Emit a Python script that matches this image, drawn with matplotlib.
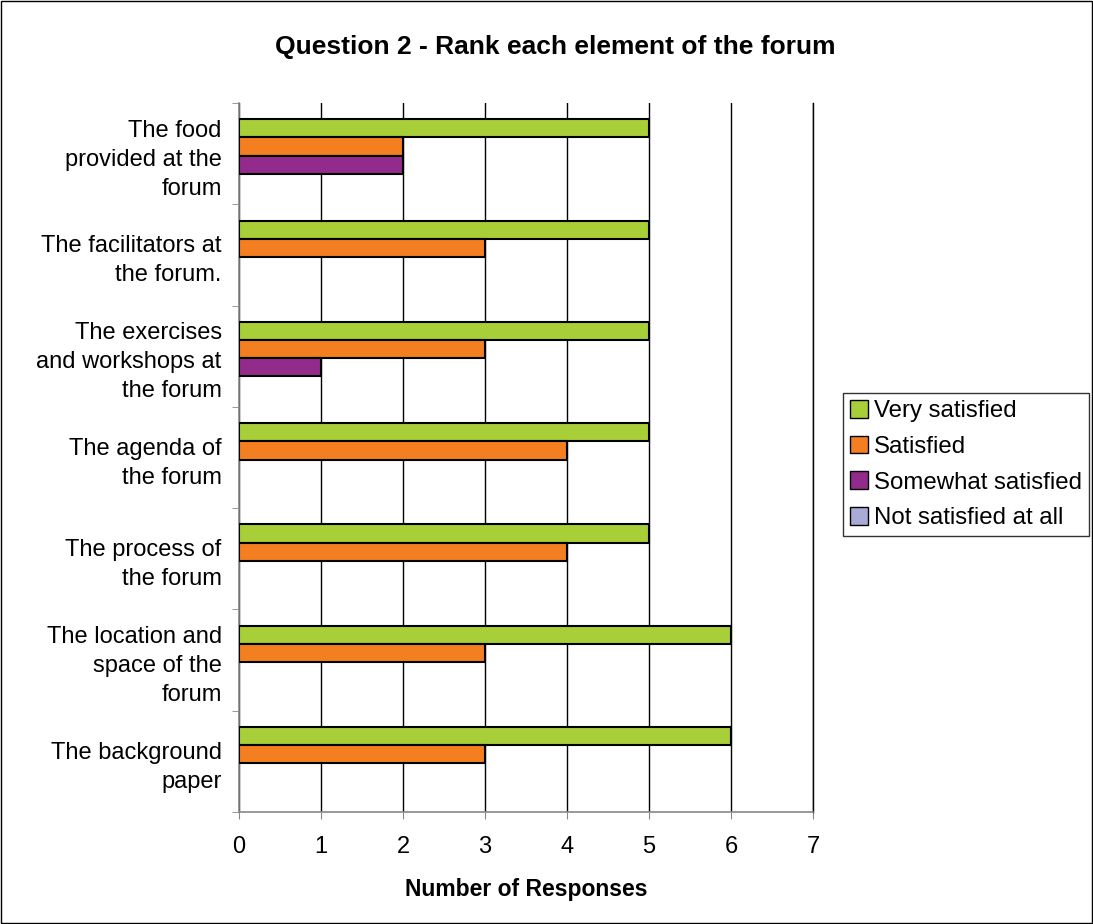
import numpy as np
import matplotlib.pyplot as plt
from matplotlib.patches import Rectangle

plt.rcParams['font.family'] = ['Liberation Sans', 'DejaVu Sans']

categories = ['The food\nprovided at the\nforum',
              'The facilitators at\nthe forum.',
              'The exercises\nand workshops at\nthe forum',
              'The agenda of\nthe forum',
              'The process of\nthe forum',
              'The location and\nspace of the\nforum',
              'The background\npaper']
series_names = ['Very satisfied', 'Satisfied', 'Somewhat satisfied', 'Not satisfied at all']
very_satisfied = [5, 5, 5, 5, 5, 6, 6]
satisfied = [2, 3, 3, 4, 4, 3, 3]
somewhat_satisfied = [2, 0, 1, 0, 0, 0, 0]
not_satisfied = [0, 0, 0, 0, 0, 0, 0]
colors = ['#a8cf38', '#f47f20', '#922b8c', '#aaaad6']

series = [very_satisfied, satisfied, somewhat_satisfied, not_satisfied]

fig = plt.figure(figsize=(10.93, 9.24), dpi=100)
ax = fig.add_axes([0.2187, 0.1212, 0.5251, 0.7673])

y = np.arange(len(categories))
h = 0.18
for i, (vals, name, c) in enumerate(zip(series, series_names, colors)):
    lw = [1.5 if v > 0 else 0 for v in vals]
    ax.barh(y - 1.5 * h + i * h + 0.02, vals, height=h, color=c, edgecolor='black',
            linewidth=lw, label=name, zorder=3)

ax.set_xlim(0, 7)
ax.set_ylim(len(categories) - 0.5, -0.5)
ax.set_xticks(range(8))
ax.xaxis.grid(True, color='black', linewidth=1, zorder=0)
ax.tick_params(axis='x', labelsize=17, length=5, color='#888888', pad=12)

ax.set_yticks(y)
ax.set_yticklabels(categories, fontsize=17, linespacing=1.41)
ax.set_yticks(np.arange(-0.5, len(categories)), minor=True)
ax.tick_params(axis='y', which='major', length=0, pad=12.5)
ax.tick_params(axis='y', which='minor', length=5, color='#888888')

ax.spines['top'].set_visible(False)
ax.spines['right'].set_color('black')
ax.spines['right'].set_linewidth(1)
for s in ['left', 'bottom']:
    ax.spines[s].set_color('#888888')
    ax.spines[s].set_linewidth(1.2)

ax.set_xlabel('Number of Responses', fontsize=16.5, fontweight='bold', labelpad=15)
fig.text(0.508, 0.949, 'Question 2 - Rank each element of the forum',
         ha='center', va='center', fontsize=19, fontweight='bold')

leg = fig.legend(loc='upper left', bbox_to_anchor=(0.771, 0.5747), fontsize=17.3,
                 frameon=True, fancybox=False, edgecolor='black',
                 handlelength=0.75, handleheight=0.75, handletextpad=0.25,
                 labelspacing=0.56, borderpad=0.3, borderaxespad=0)
leg.get_frame().set_linewidth(1)
for hnd in leg.legend_handles:
    hnd.set_linewidth(1)
    hnd.set_edgecolor('black')

fig.patches.append(Rectangle((0.001, 0.001), 0.998, 0.998, transform=fig.transFigure,
                             fill=False, edgecolor='black', linewidth=1))

fig.savefig('out.png', dpi=100)
